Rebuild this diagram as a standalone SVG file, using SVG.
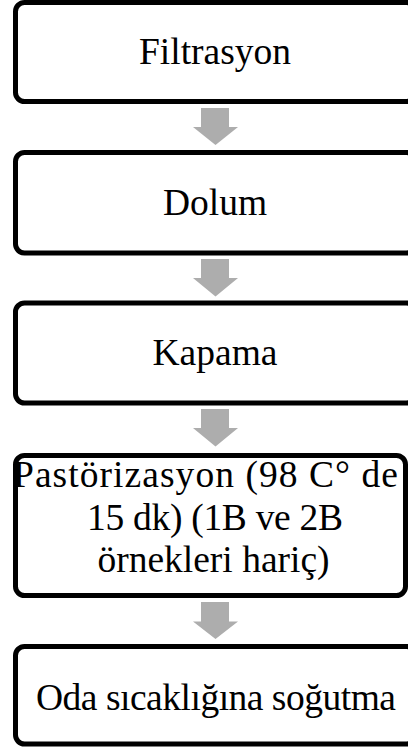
<svg xmlns="http://www.w3.org/2000/svg" width="408" height="753" viewBox="0 0 408 753">
<style>
.box{fill:#fff;stroke:#000;stroke-width:5}
.lbl{font-family:"Liberation Serif","Times New Roman",serif;font-size:37.5px;fill:#000;text-anchor:middle}
.arr{fill:#adadad}
</style>
<rect width="408" height="753" fill="#fff"/>
<g id="connectors">
<path class="arr" d="M201,108 H229 V127 H238 L215.5,145 L193,127 H201 Z"/>
<path class="arr" d="M201,259 H229 V278 H238 L215.5,296.5 L193,278 H201 Z"/>
<path class="arr" d="M201,409 H229 V428 H238 L215.5,446.5 L193,428 H201 Z"/>
<path class="arr" d="M201,602 H229 V621.5 H238 L215.5,639 L193,621.5 H201 Z"/>
</g>
<g id="n1"><rect class="box" x="15.5" y="2.5" width="400" height="99" rx="9"/><text class="lbl" x="215" y="64">Filtrasyon</text></g>
<g id="n2"><rect class="box" x="15.5" y="152.5" width="400" height="100.5" rx="9"/><text class="lbl" x="215" y="214.5">Dolum</text></g>
<g id="n3"><rect class="box" x="15.5" y="303" width="400" height="100" rx="9"/><text class="lbl" x="215" y="364.5">Kapama</text></g>
<g id="n4"><rect class="box" x="15.5" y="455.5" width="390" height="140" rx="9"/>
<text class="lbl" x="205.5" y="487" textLength="385" lengthAdjust="spacing">Pastörizasyon (98 C° de</text>
<text class="lbl" x="215" y="530" textLength="256" lengthAdjust="spacing">15 dk) (1B ve 2B</text>
<text class="lbl" x="213.5" y="572">örnekleri hariç)</text></g>
<g id="n5"><rect class="box" x="15.5" y="646.5" width="400" height="97.5" rx="9"/><text class="lbl" x="216" y="710" textLength="360" lengthAdjust="spacing">Oda sıcaklığına soğutma</text></g>
</svg>
